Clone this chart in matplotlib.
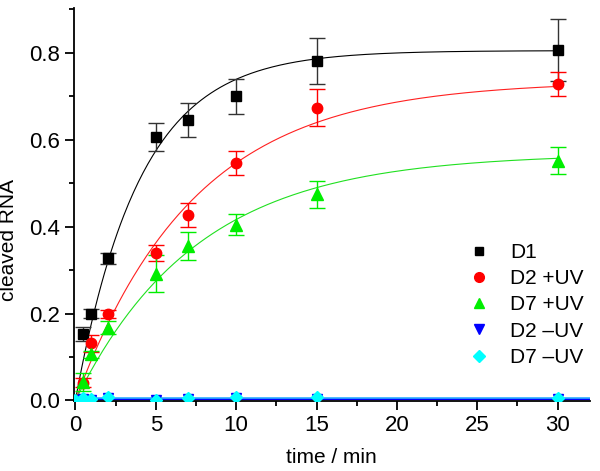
import matplotlib
matplotlib.use("Agg")
import matplotlib.pyplot as plt
import numpy as np
from matplotlib.ticker import MultipleLocator
from matplotlib.lines import Line2D

plt.rcParams['font.family'] = ['Liberation Sans', 'DejaVu Sans']

# time points (min)
t = [0, 0.5, 1, 2, 5, 7, 10, 15, 30]

d1 = [0.0, 0.153, 0.200, 0.327, 0.606, 0.645, 0.700, 0.782, 0.806]
d1_err = [0.0, 0.017, 0.010, 0.013, 0.033, 0.039, 0.040, 0.053, 0.071]

d2_uv = [0.0, 0.041, 0.131, 0.199, 0.339, 0.427, 0.547, 0.674, 0.728]
d2_uv_err = [0.0, 0.010, 0.020, 0.010, 0.018, 0.028, 0.028, 0.042, 0.027]

d7_uv = [0.0, 0.042, 0.106, 0.167, 0.292, 0.355, 0.404, 0.474, 0.552]
d7_uv_err = [0.0, 0.020, 0.008, 0.015, 0.042, 0.032, 0.024, 0.032, 0.032]

d2_nouv = [0.001, 0.003, 0.002, 0.005, 0.001, 0.004, 0.005, 0.003, 0.004]
d7_nouv = [0.001, 0.005, 0.004, 0.009, 0.002, 0.005, 0.008, 0.007, 0.005]

labels = ['D1', 'D2 +UV', 'D7 +UV', 'D2 \u2013UV', 'D7 \u2013UV']

# first-order fit parameters: y = A * (1 - exp(-k t))
fit_d1 = (0.805, 0.25)
fit_d2 = (0.735, 0.136)
fit_d7 = (0.568, 0.132)
base_d2 = 0.003
base_d7 = 0.005

fig = plt.figure(figsize=(6.0, 4.71), dpi=100)
ax = fig.add_axes([0.123, 0.148, 0.86, 0.835])

tt = np.linspace(0, 30, 300)

def first_order(p):
    return p[0] * (1 - np.exp(-p[1] * tt))

ax.plot(tt, first_order(fit_d1), color='black', lw=0.8)
ax.plot(tt, first_order(fit_d2), color='#ff2020', lw=0.8)
ax.plot(tt, first_order(fit_d7), color='#20e020', lw=0.8)
ax.plot([0, 32], [base_d2, base_d2], color='#0000ff', lw=1.5)
ax.plot([0, 32], [base_d7, base_d7], color='#30b0ff', lw=1.2)

ax.errorbar(t, d1, yerr=d1_err, fmt='s', color='black', ecolor='#333333',
            ms=7, capsize=6, elinewidth=1, capthick=1, zorder=5)
ax.errorbar(t, d2_uv, yerr=d2_uv_err, fmt='o', color='#ff0000', ecolor='#ff0000',
            ms=7.5, capsize=6, elinewidth=1, capthick=1, zorder=5)
ax.errorbar(t, d7_uv, yerr=d7_uv_err, fmt='^', color='#00ee00', ecolor='#00ee00',
            ms=8, capsize=6, elinewidth=1, capthick=1, zorder=5)
ax.plot(t, d2_nouv, 'v', color='#0000ff', ms=7, zorder=6)
ax.plot(t, d7_nouv, 'D', color='#00ffff', ms=6, zorder=6)

handles = [
    Line2D([], [], ls='none', marker='s', color='black', ms=6),
    Line2D([], [], ls='none', marker='o', color='#ff0000', ms=7),
    Line2D([], [], ls='none', marker='^', color='#00ee00', ms=7),
    Line2D([], [], ls='none', marker='v', color='#0000ff', ms=7),
    Line2D([], [], ls='none', marker='D', color='#00ffff', ms=6),
]

ax.set_xlim(-0.1, 32)
ax.set_ylim(-0.002, 0.903)
ax.xaxis.set_major_locator(MultipleLocator(5))
ax.xaxis.set_minor_locator(MultipleLocator(2.5))
ax.yaxis.set_major_locator(MultipleLocator(0.2))
ax.yaxis.set_minor_locator(MultipleLocator(0.1))
ax.yaxis.set_major_formatter(matplotlib.ticker.FormatStrFormatter('%.1f'))

for s in ['top', 'right']:
    ax.spines[s].set_visible(False)
for s in ['left', 'bottom']:
    ax.spines[s].set_linewidth(1.3)
ax.tick_params(which='major', direction='out', length=6.5, width=1.3, labelsize=16)
ax.tick_params(which='minor', direction='out', length=3.5, width=1.3)

ax.set_xlabel('time / min', fontsize=15)
ax.set_ylabel('cleaved RNA', fontsize=15)
ax.yaxis.set_label_coords(-0.108, 0.41)
ax.xaxis.set_label_coords(0.5, -0.12)

ax.legend(handles, labels, loc='center left', bbox_to_anchor=(0.745, 0.245),
          frameon=False, fontsize=15, handlelength=1.0, handletextpad=1.0,
          labelspacing=0.35, borderpad=0)

fig.savefig('out.png', dpi=100)
